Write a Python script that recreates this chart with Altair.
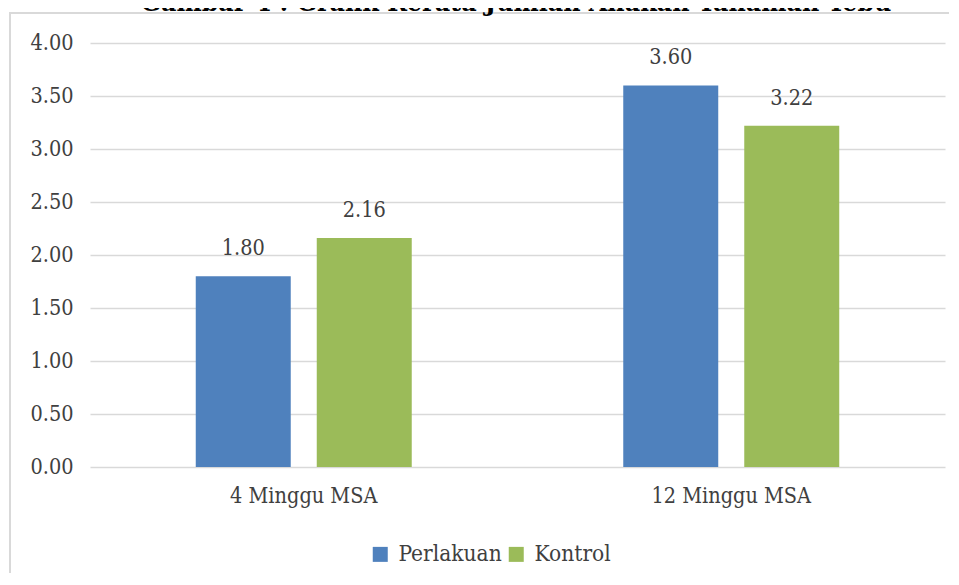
import altair as alt
import pandas as pd

# ---- data ----
categories = ["4 Minggu MSA", "12 Minggu MSA"]
series = ["Perlakuan", "Kontrol"]
perlakuan = [1.80, 3.60]
kontrol = [2.16, 3.22]
y_ticks = [0.0, 0.5, 1.0, 1.5, 2.0, 2.5, 3.0, 3.5, 4.0]
title_text = ["Gambar 4 : Grafik Rerata Jumlah Anakan Tanaman Tebu"]
colors = ["#4F81BD", "#9BBB59"]

rows = []
for i, c in enumerate(categories):
    rows.append({"kategori": c, "seri": series[0], "nilai": perlakuan[i]})
    rows.append({"kategori": c, "seri": series[1], "nilai": kontrol[i]})
df = pd.DataFrame(rows)

FONT = "DejaVu Serif Condensed"
TXT = "#404040"

x_enc = alt.X(
    "kategori:N",
    sort=categories,
    scale=alt.Scale(paddingInner=0, paddingOuter=0),
    axis=alt.Axis(
        title=None, labelAngle=0, domain=False, ticks=False,
        labelFont=FONT, labelFontSize=21.5, labelColor=TXT, labelPadding=18,
    ),
)
xoff_enc = alt.XOffset(
    "seri:N", sort=series,
    scale=alt.Scale(paddingInner=0.215, paddingOuter=0.874),
)
y_enc = alt.Y(
    "nilai:Q",
    scale=alt.Scale(domain=[0, 4], nice=False),
    axis=alt.Axis(
        values=y_ticks, format=".2f", title=None, domain=False, ticks=False,
        grid=True, gridColor="#d9d9d9", gridWidth=1.5,
        labelFont=FONT, labelFontSize=21.5, labelColor=TXT, labelPadding=17,
    ),
)

bars = alt.Chart(df).mark_bar().encode(
    x=x_enc,
    xOffset=xoff_enc,
    y=y_enc,
    color=alt.Color(
        "seri:N",
        sort=series,
        scale=alt.Scale(domain=series, range=colors),
        legend=alt.Legend(
            title=None, orient="none", legendX=279, legendY=500,
            direction="horizontal", symbolType="square", symbolSize=225,
            symbolStrokeWidth=0, labelFont=FONT, labelFontSize=22.5,
            labelColor=TXT, columnPadding=3, labelOffset=7, padding=0,
        ),
    ),
)

labels = alt.Chart(df).mark_text(
    dy=-21, baseline="alphabetic", font=FONT, fontSize=21.5, color=TXT
).encode(
    x=x_enc,
    xOffset=xoff_enc,
    y=y_enc,
    text=alt.Text("nilai:Q", format=".2f"),
)

frame_left = alt.Chart(pd.DataFrame({"f": [0]})).mark_rule(
    color="#d9d9d9", strokeWidth=2
).encode(x=alt.value(-80), y=alt.value(-30), y2=alt.value(534))

frame_top = alt.Chart(pd.DataFrame({"f": [0]})).mark_rule(
    color="#d9d9d9", strokeWidth=2
).encode(x=alt.value(-81), x2=alt.value(870), y=alt.value(-30))

title = alt.Chart(pd.DataFrame({"t": title_text})).mark_text(
    font=FONT, fontWeight="bold", fontSize=26.5, align="center",
    baseline="alphabetic", color="#000000",
).encode(
    text="t:N", x=alt.value(426), y=alt.value(-32)
)

chart = alt.layer(frame_left, frame_top, bars, labels, title).properties(
    width=855,
    height=424,
    autosize=alt.AutoSizeParams(type="none"),
    padding={"left": 82, "top": 35, "right": 4, "bottom": 106},
).configure_view(stroke=None)

chart.save("out.html", embed_options={"renderer": "svg", "actions": False})
